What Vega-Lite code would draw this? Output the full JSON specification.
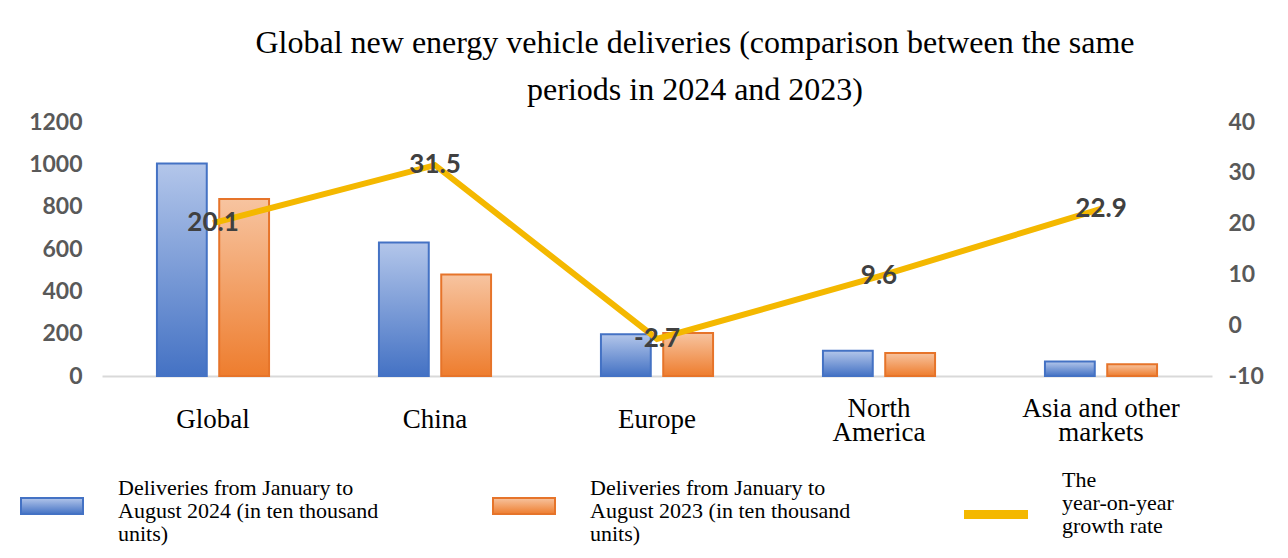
{
  "$schema": "https://vega.github.io/schema/vega-lite/v6.json",
  "width": 1110,
  "height": 254,
  "autosize": "none",
  "padding": {"left": 102, "top": 122, "right": 76, "bottom": 182},
  "background": "white",
  "title": {
    "text": ["Global new energy vehicle deliveries (comparison between the same", "periods in 2024 and 2023)"],
    "font": "Liberation Serif",
    "fontSize": 32,
    "fontWeight": "normal",
    "color": "#000000",
    "lineHeight": 47,
    "anchor": "middle",
    "frame": "group",
    "dx": 38,
    "offset": 4
  },
  "datasets": {
    "bars": [
      {"cat": "Global", "series": "Deliveries from January to August 2024 (in ten thousand units)", "value": 1004},
      {"cat": "Global", "series": "Deliveries from January to August 2023 (in ten thousand units)", "value": 836},
      {"cat": "China", "series": "Deliveries from January to August 2024 (in ten thousand units)", "value": 631},
      {"cat": "China", "series": "Deliveries from January to August 2023 (in ten thousand units)", "value": 480},
      {"cat": "Europe", "series": "Deliveries from January to August 2024 (in ten thousand units)", "value": 197},
      {"cat": "Europe", "series": "Deliveries from January to August 2023 (in ten thousand units)", "value": 203},
      {"cat": "North America", "series": "Deliveries from January to August 2024 (in ten thousand units)", "value": 119},
      {"cat": "North America", "series": "Deliveries from January to August 2023 (in ten thousand units)", "value": 109},
      {"cat": "Asia and other markets", "series": "Deliveries from January to August 2024 (in ten thousand units)", "value": 68},
      {"cat": "Asia and other markets", "series": "Deliveries from January to August 2023 (in ten thousand units)", "value": 56}
    ],
    "growth": [
      {"cat": "Global", "rate": 20.1, "label": "20.1"},
      {"cat": "China", "rate": 31.5, "label": "31.5"},
      {"cat": "Europe", "rate": -2.7, "label": "-2.7"},
      {"cat": "North America", "rate": 9.6, "label": "9.6"},
      {"cat": "Asia and other markets", "rate": 22.9, "label": "22.9"}
    ]
  },
  "layer": [
    {
      "data": {"name": "bars"},
      "mark": {"type": "bar", "strokeWidth": 2},
      "encoding": {
        "x": {
          "field": "cat",
          "type": "nominal",
          "scale": {"domain": ["Global", "China", "Europe", "North America", "Asia and other markets"], "paddingInner": 0.495, "paddingOuter": 0.2475},
          "axis": {
            "title": null,
            "orient": "bottom",
            "values": ["Global", "China", "Europe"],
            "labelAngle": 0,
            "domain": true,
            "domainColor": "#d9d9d9",
            "domainWidth": 2,
            "ticks": false,
            "tickSize": 0,
            "labelFont": "Liberation Serif",
            "labelFontSize": 27,
            "labelColor": "#000000",
            "labelBaseline": "middle",
            "labelPadding": 43,
            "labelLimit": 400,
            "labelOverlap": false
          }
        },
        "xOffset": {
          "field": "series",
          "type": "nominal",
          "sort": null,
          "scale": {"domain": ["Deliveries from January to August 2024 (in ten thousand units)", "Deliveries from January to August 2023 (in ten thousand units)"], "paddingInner": 0.2, "paddingOuter": 0}
        },
        "y": {
          "field": "value",
          "type": "quantitative",
          "scale": {"domain": [0, 1200], "nice": false},
          "axis": {
            "title": null,
            "orient": "left",
            "values": [0, 200, 400, 600, 800, 1000, 1200],
            "format": "d",
            "grid": false,
            "domain": false,
            "ticks": false,
            "labelPadding": 20,
            "labelFont": "Lato",
            "labelFontWeight": "bold",
            "labelFontSize": 23,
            "labelColor": "#595959"
          }
        },
        "color": {
          "field": "series",
          "type": "nominal",
          "scale": {
            "domain": ["Deliveries from January to August 2024 (in ten thousand units)", "Deliveries from January to August 2023 (in ten thousand units)", "The year-on-year growth rate"],
            "range": [
              {"expr": "{gradient: 'linear', x1: 0, y1: 0, x2: 0, y2: 1, stops: [{offset: 0, color: '#b3c6ea'}, {offset: 1, color: '#4472c4'}]}"},
              {"expr": "{gradient: 'linear', x1: 0, y1: 0, x2: 0, y2: 1, stops: [{offset: 0, color: '#f7c4a0'}, {offset: 1, color: '#ee7d2e'}]}"},
              "#f4b800"
            ]
          },
          "legend": {
            "title": null,
            "orient": "none",
            "legendX": -82,
            "legendY": 352,
            "direction": "horizontal",
            "columns": 3,
            "columnPadding": 110,
            "gridAlign": "all",
            "padding": 0,
            "symbolSize": 3844,
            "symbolStrokeWidth": 2,
            "labelOffset": 34,
            "labelFont": "Liberation Serif",
            "labelFontSize": 22,
            "labelColor": "#000000",
            "labelLimit": 600,
            "labelBaseline": "middle",
            "labelExpr": "indexof(datum.label, '2024') >= 0 ? ['Deliveries from January to', 'August 2024 (in ten thousand', 'units)'] : indexof(datum.label, '2023') >= 0 ? ['Deliveries from January to', 'August 2023 (in ten thousand', 'units)'] : ['The', 'year-on-year', 'growth rate']",
            "encode": {
              "symbols": {
                "update": {
                  "shape": {"signal": "indexof(datum.label, 'growth') >= 0 ? 'M-1,-0.11H1V0.11H-1Z' : 'M-1,-0.26H1V0.26H-1Z'"}
                }
              },
              "labels": {
                "update": {
                  "lineHeight": {"value": 23},
                  "dy": {"signal": "indexof(datum.label, 'growth') >= 0 ? -35 : -18"}
                }
              }
            }
          }
        },
        "stroke": {
          "field": "series",
          "type": "nominal",
          "scale": {
            "domain": ["Deliveries from January to August 2024 (in ten thousand units)", "Deliveries from January to August 2023 (in ten thousand units)", "The year-on-year growth rate"],
            "range": ["#4472c4", "#e6742a", "#f4b800"]
          },
          "legend": null
        }
      }
    },
    {
      "data": {"name": "growth"},
      "mark": {"type": "line", "color": "#f4b800", "strokeWidth": 6},
      "encoding": {
        "x": {
          "field": "cat",
          "type": "nominal",
          "scale": {"domain": ["Global", "China", "Europe", "North America", "Asia and other markets"], "paddingInner": 0.495, "paddingOuter": 0.2475},
          "axis": {
            "title": null,
            "orient": "bottom",
            "values": ["North America", "Asia and other markets"],
            "labelAngle": 0,
            "domain": false,
            "ticks": false,
            "tickSize": 0,
            "labelFont": "Liberation Serif",
            "labelFontSize": 27,
            "labelColor": "#000000",
            "labelBaseline": "middle",
            "labelLineHeight": 24,
            "labelPadding": 32,
            "labelLimit": 400,
            "labelOverlap": false,
            "labelExpr": "datum.label == 'North America' ? ['North', 'America'] : ['Asia and other', 'markets']"
          }
        },
        "y": {
          "field": "rate",
          "type": "quantitative",
          "scale": {"domain": [-10, 40], "nice": false},
          "axis": {
            "title": null,
            "orient": "right",
            "values": [-10, 0, 10, 20, 30, 40],
            "labelExpr": "'' + datum.value",
            "grid": false,
            "domain": false,
            "ticks": false,
            "labelPadding": 16,
            "labelFont": "Lato",
            "labelFontWeight": "bold",
            "labelFontSize": 23,
            "labelColor": "#595959"
          }
        }
      }
    },
    {
      "data": {"name": "growth"},
      "mark": {"type": "text", "font": "Lato", "fontWeight": "bold", "fontSize": 26, "color": "#404040", "align": "center", "baseline": "middle"},
      "encoding": {
        "x": {
          "field": "cat",
          "type": "nominal",
          "scale": {"domain": ["Global", "China", "Europe", "North America", "Asia and other markets"], "paddingInner": 0.495, "paddingOuter": 0.2475},
          "axis": null
        },
        "y": {"field": "rate", "type": "quantitative", "scale": {"domain": [-10, 40], "nice": false}, "axis": null},
        "text": {"field": "label", "type": "nominal"}
      }
    }
  ],
  "resolve": {"scale": {"y": "independent"}, "axis": {"x": "independent", "y": "independent"}},
  "config": {"view": {"stroke": null}}
}
